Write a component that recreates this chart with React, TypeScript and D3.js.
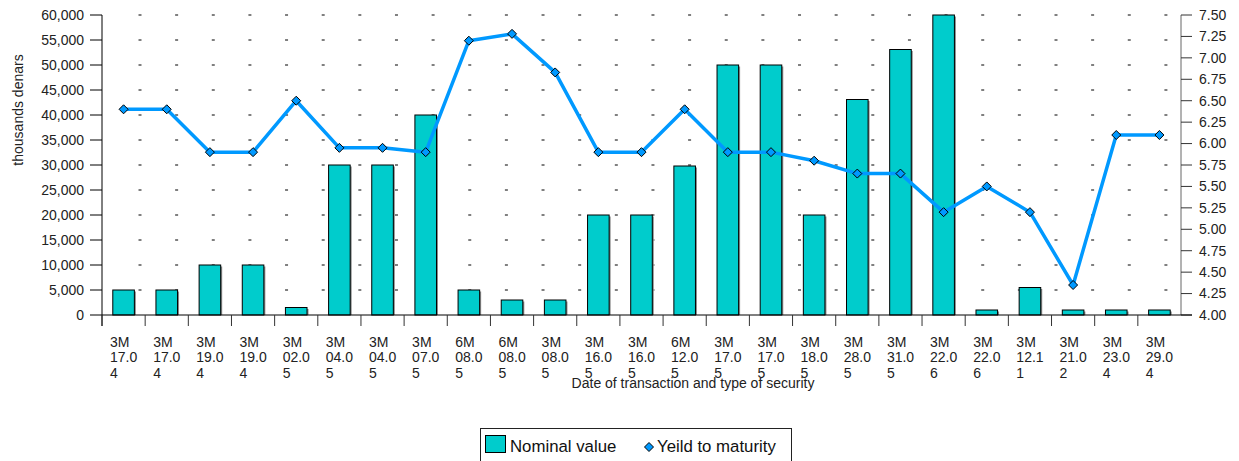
import React from "react";
import * as d3 from "d3";

const categories = [
  "3M 17.04", "3M 17.04", "3M 19.04", "3M 19.04", "3M 02.05", "3M 04.05", "3M 04.05",
  "3M 07.05", "6M 08.05", "6M 08.05", "3M 08.05", "3M 16.05", "3M 16.05", "6M 12.05",
  "3M 17.05", "3M 17.05", "3M 18.05", "3M 28.05", "3M 31.05", "3M 22.06", "3M 22.06",
  "3M 12.11", "3M 21.02", "3M 23.04", "3M 29.04",
];
const nominalValue = [
  5000, 5000, 10000, 10000, 1500, 30000, 30000, 40000, 5000, 3000, 3000, 20000, 20000,
  29800, 50000, 50000, 20000, 43100, 53100, 60000, 1000, 5500, 1000, 1000, 1000,
];
const yieldToMaturity = [
  6.4, 6.4, 5.9, 5.9, 6.5, 5.95, 5.95, 5.9, 7.2, 7.28, 6.83, 5.9, 5.9, 6.4, 5.9, 5.9,
  5.8, 5.65, 5.65, 5.2, 5.5, 5.2, 4.35, 6.1, 6.1,
];
const leftTicks = d3.range(0, 60001, 5000);
const rightTicks = d3.range(0, 15).map((i) => 4 + i * 0.25);

const W = 1239;
const H = 461;
const L = 102;
const R = 1181;
const T = 15;
const B = 315;
const FONT = "'Liberation Sans', Arial, sans-serif";
const BAR = "#00cccc";
const LINE = "#0099ff";

export default function App() {
  const idx = categories.map((_, i) => String(i));
  const xBand = d3.scaleBand<string>().domain(idx).range([L, R]).paddingInner(0.5).paddingOuter(0.25);
  const xCat = d3.scaleBand<string>().domain(idx).range([L, R]).padding(0);
  const yL = d3.scaleLinear().domain([0, 60000]).range([B, T]);
  const yR = d3.scaleLinear().domain([4, 7.5]).range([B, T]);
  const bw = xBand.bandwidth();
  const cx = (i: number) => (xBand(String(i)) as number) + bw / 2;

  const lineGen = d3
    .line<number>()
    .x((_, i) => cx(i))
    .y((d) => yR(d));

  const diamond = (x: number, y: number, r: number) =>
    `M${x},${y - r}L${x + r},${y}L${x},${y + r}L${x - r},${y}Z`;

  return (
    <svg
      width={W}
      height={H}
      style={{ position: "absolute", left: 0, top: 0, background: "#fff" }}
      fontFamily={FONT}
    >
      {/* grid */}
      {leftTicks.slice(1).map((t) => (
        <line
          key={"g" + t}
          x1={138.5}
          x2={R - 2}
          y1={yL(t)}
          y2={yL(t)}
          stroke="#000"
          strokeWidth={1}
          strokeDasharray="3 33.64"
        />
      ))}

      {/* bars */}
      {nominalValue.map((v, i) => {
        const x = xBand(String(i)) as number;
        const y = yL(v);
        return (
          <g key={"b" + i}>
            <rect x={x + 1.5} y={y + 1.5} width={bw} height={B - y - 1.5} fill="#8a8a8a" />
            <rect x={x} y={y} width={bw} height={B - y} fill={BAR} stroke="#000" strokeWidth={1} />
          </g>
        );
      })}

      {/* line */}
      <path d={lineGen(yieldToMaturity) as string} fill="none" stroke={LINE} strokeWidth={3.5} strokeLinejoin="round" />
      {yieldToMaturity.map((v, i) => (
        <path key={"m" + i} d={diamond(cx(i), yR(v), 4.5)} fill={LINE} stroke="#000" strokeWidth={1} />
      ))}

      {/* left axis */}
      <line x1={L} x2={L} y1={T} y2={B + 11} stroke="#000" />
      {leftTicks.map((t) => (
        <g key={"l" + t}>
          <line x1={L - 12} x2={L} y1={yL(t)} y2={yL(t)} stroke="#000" />
          <text x={84} y={yL(t)} dy="0.35em" textAnchor="end" fontSize={14} fill="#222">
            {d3.format(",")(t)}
          </text>
        </g>
      ))}
      <text
        transform={`translate(23,110) rotate(-90)`}
        textAnchor="middle"
        fontSize={14}
        fill="#222"
      >
        thousands denars
      </text>

      {/* right axis */}
      <line x1={R} x2={R} y1={T} y2={B} stroke="#666" />
      {rightTicks.map((t) => (
        <g key={"r" + t}>
          <line x1={R} x2={R + 11} y1={yR(t)} y2={yR(t)} stroke="#333" />
          <text x={1199} y={yR(t)} dy="0.35em" fontSize={14} fill="#222">
            {d3.format(".2f")(t)}
          </text>
        </g>
      ))}

      {/* bottom axis */}
      <line x1={L} x2={R + 11} y1={B} y2={B} stroke="#000" />
      {categories.map((c, i) => {
        const x0 = xCat(String(i)) as number;
        const [type, date] = c.split(" ");
        const lines = [type, date.slice(0, 4), date.slice(4)];
        return (
          <g key={"c" + i}>
            <line x1={x0} x2={x0} y1={B} y2={B + 11} stroke="#333" />
            <text x={x0 + 8} y={346.5} fontSize={14} fill="#222">
              {lines.map((ln, k) => (
                <tspan key={k} x={x0 + 8} y={346.5 + k * 15.5}>
                  {ln}
                </tspan>
              ))}
            </text>
          </g>
        );
      })}
      <text x={693} y={387.5} textAnchor="middle" fontSize={14} fill="#222">
        Date of transaction and type of security
      </text>

      {/* legend */}
      <rect x={480.5} y={428.5} width={311} height={40} fill="#fff" stroke="#222" />
      <rect x={485.5} y={435.5} width={20} height={17} fill={BAR} stroke="#000" />
      <text x={510} y={452} fontSize={16.8} fill="#111">
        Nominal value
      </text>
      <path d={diamond(649, 447, 4.5)} fill={LINE} stroke="#000" strokeWidth={1} />
      <text x={657} y={452} fontSize={16.8} fill="#111">
        Yeild to maturity
      </text>
    </svg>
  );
}
